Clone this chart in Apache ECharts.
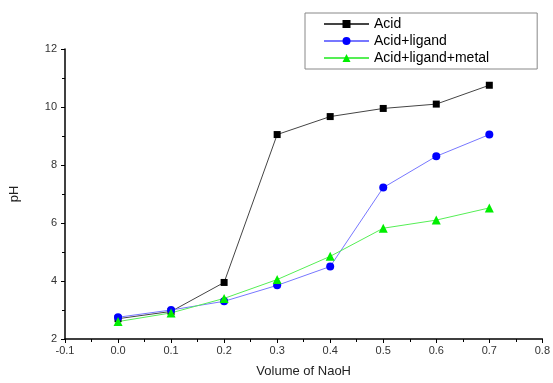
<!DOCTYPE html>
<html><head><meta charset="utf-8">
<script src="https://cdn.jsdelivr.net/npm/echarts@6/dist/echarts.min.js"></script>
<style>html,body{margin:0;padding:0;background:#fff}#c{width:553px;height:383px}</style>
</head><body><div id="c"></div>
<script>
const xValues = [0.0, 0.1, 0.2, 0.3, 0.4, 0.5, 0.6, 0.7];
const acid = [2.7, 2.95, 3.95, 9.05, 9.67, 9.95, 10.1, 10.75];
const acidLigand = [2.75, 3.0, 3.3, 3.85, 4.5, 7.22, 8.3, 9.05];
const acidLigandMetal = [2.6, 2.9, 3.4, 4.05, 4.85, 5.82, 6.1, 6.52];
const seriesNames = ['Acid', 'Acid+ligand', 'Acid+ligand+metal'];

const pair = arr => xValues.map((x, i) => [x, arr[i]]);
const font = 'Liberation Sans, Arial, sans-serif';
const chart = echarts.init(document.getElementById('c'));
chart.setOption({
  animation: false,
  grid: {left: 65, right: 10, top: 49, bottom: 42},
  legend: {
    orient: 'vertical', left: 305, top: 13,
    borderColor: '#888', borderWidth: 1, padding: [4, 48, 4, 18],
    itemGap: 3, itemWidth: 45, itemHeight: 10,
    textStyle: {fontFamily: font, fontSize: 14, color: '#000'},
    data: seriesNames
  },
  xAxis: {
    type: 'value', min: -0.1, max: 0.8, interval: 0.1,
    name: 'Volume of NaoH', nameLocation: 'middle', nameGap: 26,
    nameTextStyle: {fontFamily: font, fontSize: 13, color: '#222'},
    axisLine: {onZero: false, lineStyle: {color: '#000', width: 1.5}},
    axisTick: {show: true, length: 4, lineStyle: {color: '#000'}},
    minorTick: {show: true, splitNumber: 2, length: 3, lineStyle: {color: '#000'}},
    splitLine: {show: false},
    axisLabel: {fontFamily: font, fontSize: 11, color: '#333', margin: 6,
      formatter: v => v.toFixed(1)}
  },
  yAxis: {
    type: 'value', min: 2, max: 12, interval: 2,
    name: 'pH', nameLocation: 'middle', nameGap: 44,
    nameTextStyle: {fontFamily: font, fontSize: 13, color: '#222'},
    axisLine: {show: true, onZero: false, lineStyle: {color: '#000', width: 1.5}},
    axisTick: {show: true, length: 4, lineStyle: {color: '#000'}},
    minorTick: {show: true, splitNumber: 2, length: 3, lineStyle: {color: '#000'}},
    splitLine: {show: false},
    axisLabel: {fontFamily: font, fontSize: 11, color: '#333', margin: 8}
  },
  series: [
    {name: seriesNames[0], type: 'line', data: pair(acid), symbol: 'rect', symbolSize: 7,
      itemStyle: {color: '#000'}, lineStyle: {color: '#444', width: 1}},
    {name: seriesNames[1], type: 'line', data: pair(acidLigand), symbol: 'circle', symbolSize: 8,
      itemStyle: {color: '#0000ff'}, lineStyle: {color: '#7777ff', width: 1}},
    {name: seriesNames[2], type: 'line', data: pair(acidLigandMetal), symbol: 'triangle', symbolSize: 9,
      itemStyle: {color: '#00ee00'}, lineStyle: {color: '#55ee55', width: 1}}
  ]
});
</script></body></html>
